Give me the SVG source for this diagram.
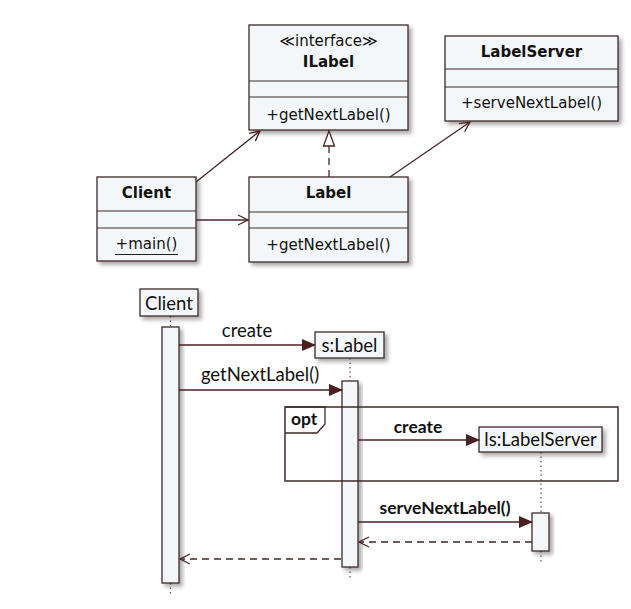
<svg xmlns="http://www.w3.org/2000/svg" width="631" height="609" viewBox="0 0 631 609">
<defs>
<filter id="sh" x="-20%" y="-20%" width="150%" height="150%">
<feDropShadow dx="3" dy="3" stdDeviation="2.2" flood-color="#000" flood-opacity="0.35"/>
</filter>
<marker id="open" viewBox="0 0 12 12" refX="11" refY="6" markerWidth="12" markerHeight="12" markerUnits="userSpaceOnUse" orient="auto">
<path d="M1,1 L11,6 L1,11" fill="none" stroke="#4a2525" stroke-width="1.3"/>
</marker>
<marker id="filled" viewBox="0 0 14 12" refX="13" refY="6" markerWidth="14" markerHeight="12" markerUnits="userSpaceOnUse" orient="auto">
<path d="M0,0 L14,6 L0,12 Z" fill="#4a1f1f"/>
</marker>
</defs>
<style>
.box{fill:#f4f7f9;stroke:#3e2a2a;stroke-width:1.3}
.div{stroke:#3e2a2a;stroke-width:1.1}
.ct{font-family:"DejaVu Sans",sans-serif;font-size:15px;fill:#111;text-anchor:middle}
.cb{font-family:"DejaVu Sans",sans-serif;font-size:15px;font-weight:bold;fill:#111;text-anchor:middle}
.st{font-family:Lato,"Open Sans",sans-serif;font-size:18.5px;fill:#111}
.stb{font-family:Lato,"Open Sans",sans-serif;font-size:17.5px;font-weight:bold;fill:#111}
.conn{stroke:#4a2525;stroke-width:1.3;fill:none}
.msg{stroke:#4a1f1f;stroke-width:1.5;fill:none}
.life{stroke:#555;stroke-width:1.2;stroke-dasharray:1.5 3;fill:none}
.act{fill:#f4f7f9;stroke:#3e2a2a;stroke-width:1.3}
.dash{stroke:#4a2525;stroke-width:1.3;stroke-dasharray:7 5;fill:none}
</style>
<rect width="631" height="609" fill="#fff"/>

<g id="ILabel">
<rect class="box" x="249" y="25" width="159" height="105" filter="url(#sh)"/>
<line class="div" x1="249" y1="81" x2="408" y2="81"/>
<line class="div" x1="249" y1="97" x2="408" y2="97"/>
<text class="ct" x="328.5" y="46">≪interface≫</text>
<text class="cb" x="328.5" y="67">ILabel</text>
<text class="ct" x="328.5" y="120">+getNextLabel()</text>
</g>

<g id="LabelServer">
<rect class="box" x="445" y="36" width="173" height="85" filter="url(#sh)"/>
<line class="div" x1="445" y1="69" x2="618" y2="69"/>
<line class="div" x1="445" y1="87" x2="618" y2="87"/>
<text class="cb" x="531.5" y="57">LabelServer</text>
<text class="ct" x="531.5" y="108">+serveNextLabel()</text>
</g>

<g id="Client">
<rect class="box" x="97" y="177" width="99" height="84" filter="url(#sh)"/>
<line class="div" x1="97" y1="211" x2="196" y2="211"/>
<line class="div" x1="97" y1="228" x2="196" y2="228"/>
<text class="cb" x="146.5" y="198">Client</text>
<text class="ct" x="146.5" y="249">+main()</text>
<line x1="115" y1="254.5" x2="178" y2="254.5" stroke="#222" stroke-width="1"/>
</g>

<g id="Label">
<rect class="box" x="249" y="177" width="159" height="85" filter="url(#sh)"/>
<line class="div" x1="249" y1="212" x2="408" y2="212"/>
<line class="div" x1="249" y1="228" x2="408" y2="228"/>
<text class="cb" x="328.5" y="198">Label</text>
<text class="ct" x="328.5" y="250">+getNextLabel()</text>
</g>

<g id="class-connectors">
<line class="conn" x1="196" y1="182" x2="260" y2="131" marker-end="url(#open)"/>
<line class="conn" x1="196" y1="220" x2="248" y2="220" marker-end="url(#open)"/>
<line class="conn" x1="390" y1="177" x2="470" y2="122" marker-end="url(#open)"/>
<line class="dash" x1="329" y1="177" x2="329" y2="146" stroke-dasharray="6 4"/>
<path d="M329,131 L323.5,146 L334.5,146 Z" fill="#fff" stroke="#4a2525" stroke-width="1.3"/>
</g>

<g id="seq-lifelines">
<line class="life" x1="170.5" y1="316" x2="170.5" y2="327"/>
<line class="life" x1="170.5" y1="583" x2="170.5" y2="596"/>
<line class="life" x1="350" y1="358" x2="350" y2="381"/>
<line class="life" x1="350" y1="567" x2="350" y2="580"/>
<line class="life" x1="541" y1="452" x2="541" y2="513"/>
<line class="life" x1="541" y1="551" x2="541" y2="562"/>
</g>

<g id="obj-Client">
<rect class="box" x="140" y="289" width="58" height="27" filter="url(#sh)"/>
<text class="st" x="169" y="310" text-anchor="middle">Client</text>
<rect class="act" x="162" y="327" width="17" height="256" filter="url(#sh)"/>
</g>

<g id="obj-sLabel">
<rect class="box" x="315" y="332" width="69" height="26" filter="url(#sh)"/>
<text class="st" x="349.5" y="352" text-anchor="middle">s:Label</text>
<rect class="act" x="342" y="381" width="16" height="186" filter="url(#sh)"/>
</g>

<g id="obj-lsLabelServer">
<rect class="box" x="479" y="427" width="123" height="25" filter="url(#sh)"/>
<text class="st" x="540.5" y="446" text-anchor="middle">ls:LabelServer</text>
<rect class="act" x="532" y="513" width="17" height="38" filter="url(#sh)"/>
</g>

<g id="opt-frame">
<rect x="285" y="407" width="333" height="74" fill="none" stroke="#3e2a2a" stroke-width="1.5"/>
<path d="M285,407 L325,407 L325,424 L317,433 L285,433" fill="none" stroke="#3e2a2a" stroke-width="1.3"/>
<text class="stb" x="291" y="425">opt</text>
</g>

<g id="seq-messages">
<line class="msg" x1="179" y1="345" x2="315" y2="345" marker-end="url(#filled)"/>
<text class="st" x="247" y="337" text-anchor="middle">create</text>
<line class="msg" x1="179" y1="390" x2="342" y2="390" marker-end="url(#filled)"/>
<text class="st" x="260" y="381" text-anchor="middle">getNextLabel()</text>
<line class="msg" x1="358" y1="440" x2="479" y2="440" marker-end="url(#filled)"/>
<text class="stb" x="418" y="433" text-anchor="middle">create</text>
<line class="msg" x1="358" y1="522" x2="532" y2="522" marker-end="url(#filled)"/>
<text class="stb" x="445" y="514" text-anchor="middle">serveNextLabel()</text>
<line class="dash" x1="532" y1="542" x2="359" y2="542" marker-end="url(#open)"/>
<line class="dash" x1="341" y1="559" x2="180" y2="559" marker-end="url(#open)"/>
</g>
</svg>
